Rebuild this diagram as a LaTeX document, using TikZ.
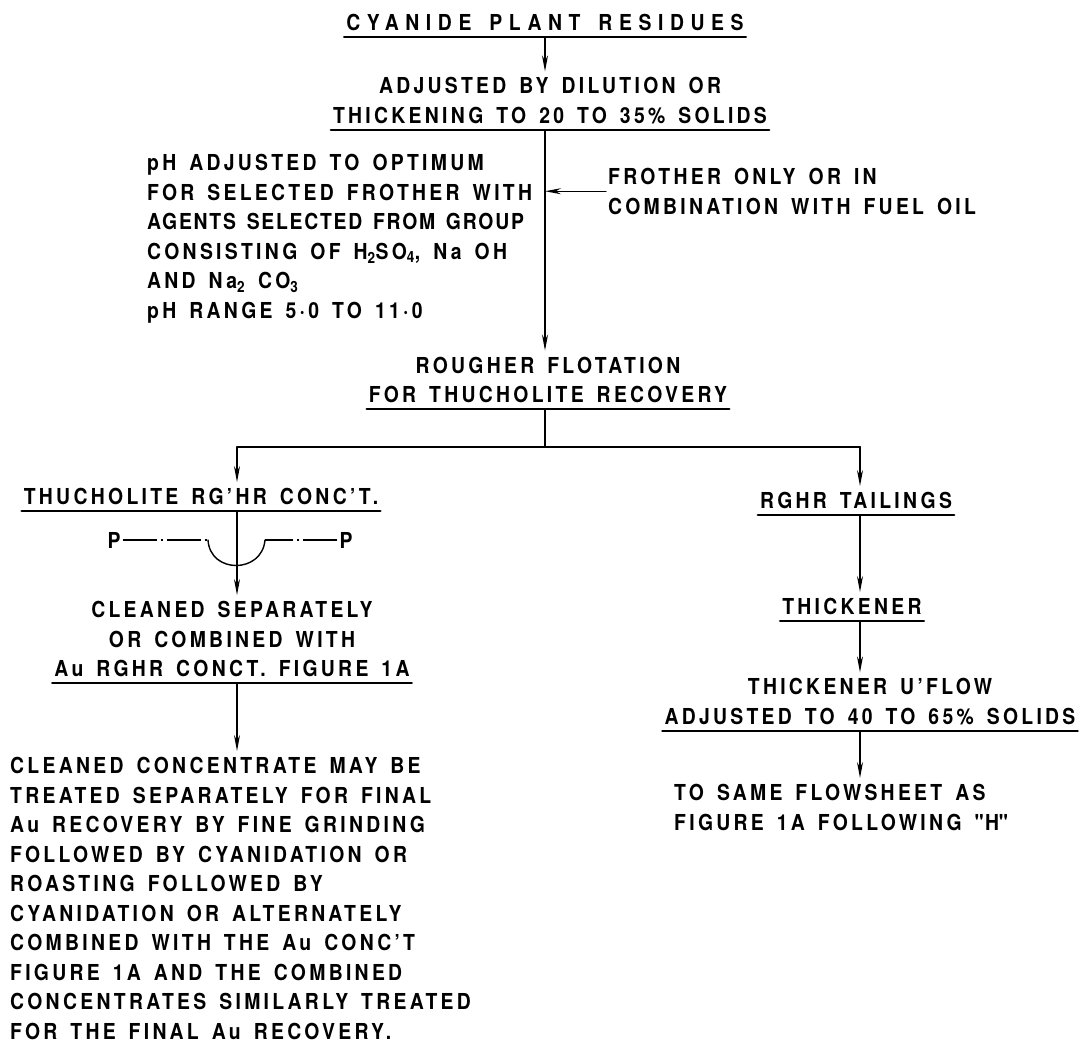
\documentclass[tikz,border=0pt]{standalone}
\usepackage{fontspec}
\setmainfont{TeX Gyre Heros}[FakeStretch=0.88,LetterSpace=15,WordSpace=1.5]
\usetikzlibrary{arrows.meta}
\usetikzlibrary{positioning}

\tikzset{
  stage/.style={inner xsep=2pt,inner ysep=6pt,align=center,font=\fontsize{22}{29.5}\selectfont\bfseries},
  ulstage/.style={stage,append after command={\pgfextra{\draw[line width=2.6pt] (\tikzlastnode.south west) -- (\tikzlastnode.south east);}}},
  flow/.style={-{Stealth[length=16pt,width=6pt]},line width=1.4pt},
  centerline/.style={line width=1.4pt,line cap=butt,dash pattern=on 34pt off 4pt on 2pt off 4pt}
}

\begin{document}
\begin{tikzpicture}[line cap=round,line join=round,x=1pt,y=-1pt]
  \useasboundingbox (0,0) rectangle (1082,1052);
  \coordinate (colL) at (237,0);
  \coordinate (colR) at (860,0);
  \node[ulstage,anchor=south] (crp) at (545,37) {\addfontfeatures{LetterSpace=30}CYANIDE PLANT RESIDUES};
  \node[ulstage,anchor=south] (thk) at (550,130) {ADJUSTED BY DILUTION OR\\THICKENING TO 20 TO 35\% SOLIDS};
  \node[stage,align=left,anchor=north west] (phb) at (145,148) {pH ADJUSTED TO OPTIMUM\\FOR SELECTED FROTHER WITH\\{\addfontfeatures{LetterSpace=8}AGENTS SELECTED FROM GROUP}\\CONSISTING OF H\textsubscript{2}SO\textsubscript{4}, Na OH\\AND Na\textsubscript{2} CO\textsubscript{3}\\pH RANGE 5·0 TO 11·0};
  \node[stage,align=left,anchor=north west] (frt) at (606,162) {FROTHER ONLY OR IN\\COMBINATION WITH FUEL OIL};
  \node[ulstage,anchor=south] (rgh) at (548,409) {ROUGHER FLOTATION\\FOR THUCHOLITE RECOVERY};
  \node[ulstage,anchor=south] (tcc) at (201,511) {THUCHOLITE RG’HR CONC’T.};
  \node[ulstage,anchor=south] (tail) at (856,515) {RGHR TAILINGS};
  \node[stage] (pl) at (114,540) {P};
  \node[stage] (pr) at (346,540) {P};
  \node[ulstage,anchor=south] (cln) at (232,683) {CLEANED SEPARATELY\\OR COMBINED WITH\\Au RGHR CONCT. FIGURE 1A};
  \node[stage,align=left,anchor=north west] (fin) at (8,751) {CLEANED CONCENTRATE MAY BE\\TREATED SEPARATELY FOR FINAL\\Au RECOVERY BY FINE GRINDING\\FOLLOWED BY CYANIDATION OR\\ROASTING FOLLOWED BY\\CYANIDATION OR ALTERNATELY\\COMBINED WITH THE Au CONC’T\\FIGURE 1A AND THE COMBINED\\CONCENTRATES SIMILARLY TREATED\\FOR THE FINAL Au RECOVERY.};
  \node[ulstage,anchor=south] (thn) at (852,621) {THICKENER};
  \node[ulstage,anchor=south] (ufl) at (870,731) {THICKENER U’FLOW\\ADJUSTED TO 40 TO 65\% SOLIDS};
  \node[stage,align=left,anchor=north west] (flw) at (672,778) {TO SAME FLOWSHEET AS\\FIGURE 1A FOLLOWING \textquotedbl H\textquotedbl};
  \draw[flow] (crp.south) -- (crp.south |- thk.north);
  \draw[flow] (crp.south |- thk.south) -- (crp.south |- rgh.north);
  \draw[flow] (frt.west) -- (frt.west -| crp.south);
  \coordinate (split) at (crp.south |- 0,447);
  \draw[line width=1.4pt] (crp.south |- rgh.south) -- (split);
  \draw[line width=2pt] (split -| colL) -- (split -| colR);
  \draw[flow] (split -| colL) -- (tcc.north -| colL);
  \draw[flow] (split -| colR) -- (tail.north -| colR);
  \draw[flow] (tcc.south -| colL) -- (cln.north -| colL);
  \draw[centerline] (pl.east) -- (208,540);
  \draw[line width=1.4pt] (208,540) .. controls (210,574) and (262,574) .. (265,540);
  \draw[centerline] (pr.west) -- (265,540);
  \draw[flow] (cln.south -| colL) -- (fin.north -| colL);
  \draw[flow] (tail.south -| colR) -- (thn.north -| colR);
  \draw[flow] (thn.south -| colR) -- (ufl.north -| colR);
  \draw[flow] (ufl.south -| colR) -- (flw.north -| colR);
\end{tikzpicture}
\end{document}
